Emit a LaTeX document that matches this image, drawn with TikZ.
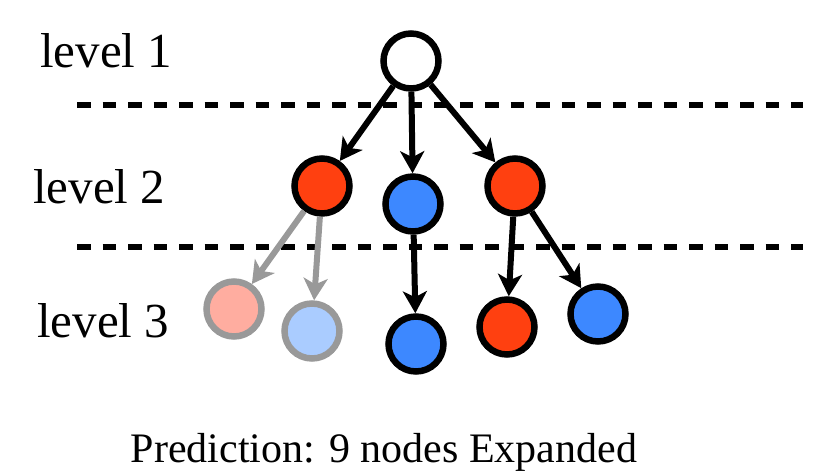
\documentclass[tikz,border=0pt]{standalone}
\usepackage{fontspec}
\setmainfont{Liberation Serif}
\usetikzlibrary{arrows.meta}
\definecolor{rednode}{HTML}{FF4010}
\definecolor{bluenode}{HTML}{3D88FF}
\definecolor{pinknode}{HTML}{FFADA0}
\definecolor{lightbluenode}{HTML}{AACCFF}
\definecolor{graylink}{HTML}{999999}
\tikzset{
  tnode/.style={circle, draw=black, line width=6.5pt, minimum size=55pt, inner sep=0pt},
  rnode/.style={tnode, fill=rednode},
  bnode/.style={tnode, fill=bluenode},
  wnode/.style={tnode, fill=white},
  pnode/.style={tnode, draw=graylink, fill=pinknode},
  lbnode/.style={tnode, draw=graylink, fill=lightbluenode},
  link/.style={line width=6pt, -{Stealth[length=22pt,width=24pt,inset=6pt]}},
  glink/.style={link, draw=graylink, -{Stealth[length=22pt,width=24pt,inset=6pt,color=graylink]}},
  sep/.style={line width=6.5pt, dash pattern=on 13.5pt off 12pt},
  lvl/.style={font=\fontsize{49}{53}\selectfont, anchor=base west, inner sep=0pt},
}
\begin{document}
\begin{tikzpicture}[x=1pt,y=1pt]
\useasboundingbox (0,0) rectangle (815,475);
% separators
\coordinate (s1a) at (77,370);
\coordinate (s1b) at (803,370);
\coordinate (s2a) at (77,228);
\coordinate (s2b) at (803,228);
\draw[sep] (s1a) -- (s1b);
\draw[sep] (s2a) -- (s2b);
% labels
\node[lvl] (l1) at (40,407) {level 1};
\node[lvl] (l2) at (33,272) {level 2};
\node[lvl] (l3) at (37,138) {level 3};
% nodes
\node[wnode] (root) at (411,414) {};
\node[rnode] (a) at (322,289) {};
\node[bnode] (b) at (413,271) {};
\node[rnode] (c) at (515,289) {};
\node[pnode] (a1) at (234,166) {};
\node[lbnode] (a2) at (312,144) {};
\node[bnode] (b1) at (416,131) {};
\node[rnode] (c1) at (507,148) {};
\node[bnode] (c2) at (598,161) {};
% links
\draw[link] (root) -- (a);
\draw[link] (root) -- (b);
\draw[link] (root) -- (c);
\draw[glink] (a) -- (a1);
\draw[glink] (a) -- (a2);
\draw[link] (b) -- (b1);
\draw[link] (c) -- (c1);
\draw[link] (c) -- (c2);
% caption
\node[font=\fontsize{42}{46}\selectfont, anchor=base, inner sep=0pt] (cap) at (384,13) {Prediction: 9 nodes Expanded};
\end{tikzpicture}
\end{document}
